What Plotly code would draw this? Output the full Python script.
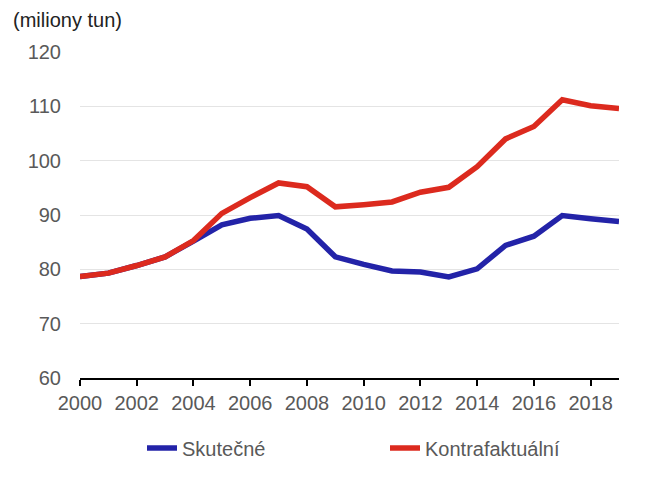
import plotly.graph_objects as go

years = list(range(2000, 2020))
skutecne = [78.7, 79.3, 80.7, 82.3, 85.2, 88.2, 89.4, 89.9, 87.4, 82.3,
            80.9, 79.7, 79.5, 78.6, 80.1, 84.4, 86.1, 89.9, 89.3, 88.8]
kontrafaktualni = [78.7, 79.3, 80.7, 82.3, 85.3, 90.3, 93.2, 95.9, 95.2, 91.5,
                   91.9, 92.4, 94.2, 95.1, 98.9, 104.0, 106.3, 111.2, 110.1, 109.6]
series_names = ["Skutečné", "Kontrafaktuální"]
y_ticks = [60, 70, 80, 90, 100, 110, 120]
x_ticks = list(range(2000, 2019, 2))

BLUE = "#2323a8"
RED = "#dc2a1e"
GRAY = "#595959"
FONT = "Liberation Sans, Arial, sans-serif"

W, H = 662, 475  # page body has an 8px margin

fig = go.Figure()
fig.add_trace(go.Scatter(x=years, y=skutecne, mode="lines", name=series_names[0],
                         line=dict(color=BLUE, width=5.5)))
fig.add_trace(go.Scatter(x=years, y=kontrafaktualni, mode="lines", name=series_names[1],
                         line=dict(color=RED, width=5.5)))

fig.update_layout(
    width=W, height=H,
    margin=dict(l=72, r=51, t=44, b=105),
    plot_bgcolor="white", paper_bgcolor="white",
    font=dict(family=FONT, size=20, color=GRAY),
    title=dict(text="(miliony tun)", xref="container", yref="container",
               x=5/W, xanchor="left", y=1-12/H, yanchor="middle",
               font=dict(family=FONT, size=20, color="#222222")),
    showlegend=True,
    legend=dict(orientation="h", xref="container", yref="container",
                x=134/W, xanchor="left", y=1-440/H, yanchor="middle",
                entrywidth=198, entrywidthmode="pixels",
                font=dict(family=FONT, size=20, color=GRAY),
                bgcolor="rgba(0,0,0,0)"),
    xaxis=dict(range=[2000, 2019], tickvals=x_ticks, ticktext=[str(v) for v in x_ticks],
               showgrid=False, zeroline=False, showline=True, linecolor="black", linewidth=1.5,
               ticks="outside", ticklen=6, tickwidth=1.5, tickcolor="black",
               tickfont=dict(family=FONT, size=20, color=GRAY)),
    yaxis=dict(range=[60, 120], tickvals=y_ticks, showgrid=True, gridcolor="#e4e4e4",
               gridwidth=1, zeroline=False, showline=False, ticks="",
               ticklabelstandoff=18,
               tickfont=dict(family=FONT, size=20, color=GRAY)),
)

fig.write_html("out.html")
